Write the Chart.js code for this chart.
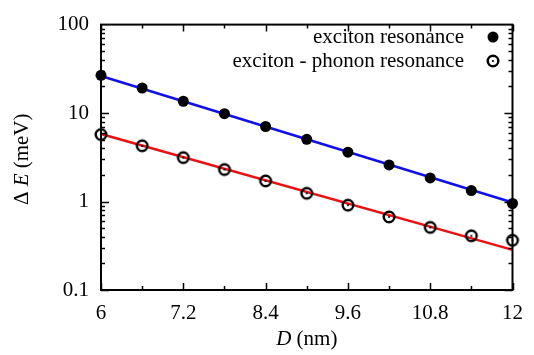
<!DOCTYPE html>
<html>
<head>
<meta charset="utf-8">
<script src="https://cdn.jsdelivr.net/npm/chart.js@4"></script>
<style>
  html, body { margin: 0; padding: 0; background: #fff; }
  #wrap { width: 534px; height: 355px; }
</style>
</head>
<body>
<div id="wrap"><canvas id="grafico" width="534" height="355"></canvas></div>
<script>
// datos
const valoresD = [6, 6.6, 7.2, 7.8, 8.4, 9.0, 9.6, 10.2, 10.8, 11.4, 12];
const excitonRes = [26.7, 19.2, 13.6, 9.84, 7.05, 5.05, 3.61, 2.59, 1.85, 1.33, 0.95];
const fononRes = [5.72, 4.27, 3.14, 2.30, 1.71, 1.24, 0.91, 0.67, 0.51, 0.41, 0.365];

// rectas de ajuste (extremos)
const ajusteD = [6, 12];
const ajusteExciton = [26.2, 0.975];
const ajusteFonon = [5.8, 0.284];

const ticksX = [6, 7.2, 8.4, 9.6, 10.8, 12];
const ticksY = [0.1, 1, 10, 100];
const etiquetas = ['exciton resonance', 'exciton - phonon resonance'];

const FUENTE = 'Liberation Serif';
const TAM = 21;
Chart.defaults.font.family = FUENTE;
Chart.defaults.font.size = TAM;
Chart.defaults.color = '#000';

// marcador: circulo abierto con punto al centro
function marcadorFonon() {
    const c = document.createElement('canvas');
    c.width = 16; c.height = 16;
    const g = c.getContext('2d');
    g.strokeStyle = '#000';
    g.lineWidth = 2.4;
    g.beginPath(); g.arc(8, 8, 5.3, 0, Math.PI * 2); g.stroke();
    g.fillStyle = '#000';
    g.beginPath(); g.arc(8, 8, 1.1, 0, Math.PI * 2); g.fill();
    return c;
}
const imgFonon = marcadorFonon();

function puntos(xs, ys) {
    return xs.map((x, i) => ({ x: x, y: ys[i] }));
}

// marco, ticks hacia adentro, titulos y leyenda
const decoracion = {
    id: 'decoracion',
    afterDraw(chart) {
        const ctx = chart.ctx;
        const a = chart.chartArea;
        const sx = chart.scales.x, sy = chart.scales.y;
        ctx.save();
        ctx.strokeStyle = '#000';
        ctx.lineWidth = 1.5;
        ctx.beginPath();
        // ticks eje y
        for (let e = -1; e <= 1; e++) {
            for (let m = 1; m <= 9; m++) {
                const v = m * Math.pow(10, e);
                const py = Math.round(sy.getPixelForValue(v)) + 0.5;
                const largo = m === 1 ? 8 : 4;
                ctx.moveTo(a.left, py); ctx.lineTo(a.left + largo, py);
                ctx.moveTo(a.right, py); ctx.lineTo(a.right - largo, py);
            }
        }
        // ticks eje x
        for (let k = 0; k <= 10; k++) {
            const v = 6 + k * 0.6;
            const px = Math.round(sx.getPixelForValue(v)) + 0.5;
            const largo = k % 2 === 0 ? 7 : 4;
            ctx.moveTo(px, a.bottom); ctx.lineTo(px, a.bottom - largo);
            ctx.moveTo(px, a.top); ctx.lineTo(px, a.top + largo);
        }
        ctx.stroke();

        ctx.lineWidth = 2;
        ctx.strokeRect(a.left, a.top, a.right - a.left, a.bottom - a.top);

        // titulo eje x: D (nm)
        ctx.fillStyle = '#000';
        ctx.textBaseline = 'middle';
        const fIt = 'italic ' + TAM + 'px ' + FUENTE;
        const fNo = TAM + 'px ' + FUENTE;
        ctx.font = fIt; const wD = ctx.measureText('D').width;
        ctx.font = fNo; const wR = ctx.measureText(' (nm)').width;
        let x0 = (a.left + a.right) / 2 - (wD + wR) / 2;
        ctx.textAlign = 'left';
        ctx.font = fIt; ctx.fillText('D', x0, 339);
        ctx.font = fNo; ctx.fillText(' (nm)', x0 + wD, 339);

        // titulo eje y: Δ E (meV)
        ctx.save();
        ctx.translate(22, (a.top + a.bottom) / 2 + 2);
        ctx.rotate(-Math.PI / 2);
        ctx.font = fNo; const w1 = ctx.measureText('\u0394 ').width;
        ctx.font = fIt; const w2 = ctx.measureText('E').width;
        ctx.font = fNo; const w3 = ctx.measureText(' (meV)').width;
        let y0 = -(w1 + w2 + w3) / 2;
        ctx.font = fNo; ctx.fillText('\u0394 ', y0, 0);
        ctx.font = fIt; ctx.fillText('E', y0 + w1, 0);
        ctx.font = fNo; ctx.fillText(' (meV)', y0 + w1 + w2, 0);
        ctx.restore();

        // leyenda
        ctx.font = fNo;
        ctx.textAlign = 'right';
        ctx.fillText(etiquetas[0], 464, 37);
        ctx.fillText(etiquetas[1], 464, 61);
        ctx.beginPath(); ctx.arc(493, 37, 5.5, 0, Math.PI * 2); ctx.fill();
        ctx.drawImage(imgFonon, 485, 53);
        ctx.restore();
    }
};

new Chart(document.getElementById('grafico').getContext('2d'), {
    type: 'scatter',
    data: {
        datasets: [
            {
                label: etiquetas[0],
                data: puntos(valoresD, excitonRes),
                pointStyle: 'circle',
                pointRadius: 5.5,
                backgroundColor: '#000',
                borderColor: '#000',
                borderWidth: 0,
                clip: false
            },
            {
                label: etiquetas[1],
                data: puntos(valoresD, fononRes),
                pointStyle: imgFonon,
                clip: false
            },
            {
                label: 'ajuste exciton',
                data: puntos(ajusteD, ajusteExciton),
                showLine: true,
                pointRadius: 0,
                borderColor: '#1010ee',
                borderWidth: 2.5,
                clip: false
            },
            {
                label: 'ajuste fonon',
                data: puntos(ajusteD, ajusteFonon),
                showLine: true,
                pointRadius: 0,
                borderColor: '#ee1010',
                borderWidth: 2.5,
                clip: false
            }
        ]
    },
    options: {
        responsive: false,
        animation: false,
        layout: { padding: { top: 14, right: 13, left: 0, bottom: 0 } },
        plugins: {
            legend: { display: false },
            tooltip: { enabled: false }
        },
        scales: {
            x: {
                type: 'linear',
                min: 6,
                max: 12,
                afterBuildTicks: (s) => { s.ticks = ticksX.map(v => ({ value: v })); },
                afterFit: (s) => { s.height = 65; },
                ticks: {
                    padding: 11,
                    maxRotation: 0,
                    callback: (v) => String(v)
                },
                grid: { display: false, drawTicks: false },
                border: { display: false }
            },
            y: {
                type: 'logarithmic',
                min: 0.1,
                max: 100,
                afterBuildTicks: (s) => { s.ticks = ticksY.map(v => ({ value: v })); },
                afterFit: (s) => { s.width = 101; },
                ticks: {
                    padding: 12,
                    callback: (v) => String(v)
                },
                grid: { display: false, drawTicks: false },
                border: { display: false }
            }
        }
    },
    plugins: [decoracion]
});
</script>
</body>
</html>
